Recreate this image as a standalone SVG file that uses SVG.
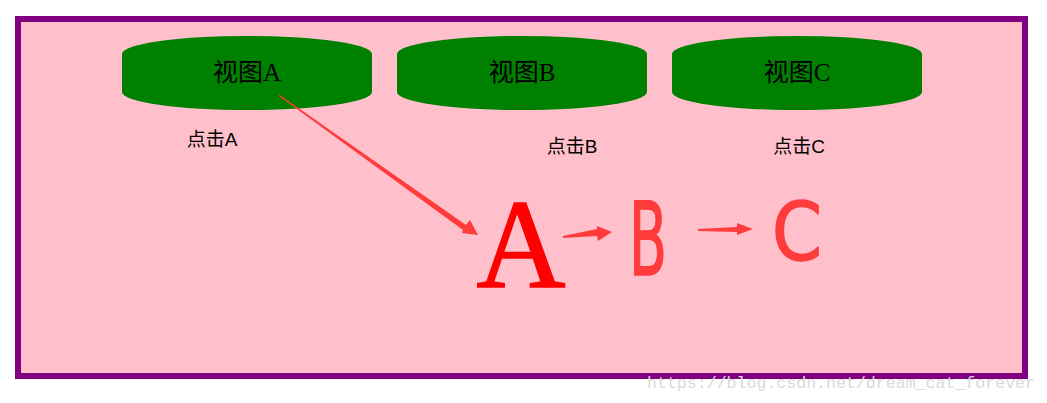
<svg xmlns="http://www.w3.org/2000/svg" width="1047" height="403" viewBox="0 0 1047 403">
<style>
.node{fill:#008000}
.ntxt{font-family:"Liberation Serif","Noto Sans CJK SC",serif;font-size:25px;fill:#000;text-anchor:middle}
.lbl{font-family:"Liberation Sans","Noto Sans CJK SC",sans-serif;font-size:19px;fill:#000;text-anchor:middle}
.arr{fill:#ff3b3b}
.hand{font-family:"DejaVu Sans",sans-serif;fill:#ff3b3b;stroke:#ff3b3b;stroke-width:1.5;stroke-linejoin:round}
</style>
<rect x="0" y="0" width="1047" height="403" fill="#ffffff"/>
<rect x="18" y="19" width="1007" height="357" fill="#ffc0cb" stroke="#800080" stroke-width="6"/>
<g id="nodeA"><rect class="node" x="122" y="36" width="250" height="74" rx="125" ry="18"/><text class="ntxt" x="247" y="81">视图A</text></g>
<g id="nodeB"><rect class="node" x="397" y="36" width="250" height="74" rx="125" ry="18"/><text class="ntxt" x="522" y="81">视图B</text></g>
<g id="nodeC"><rect class="node" x="672" y="36" width="250" height="74" rx="125" ry="18"/><text class="ntxt" x="797" y="81">视图C</text></g>
<g id="labels">
<text class="lbl" x="212" y="146">点击A</text>
<text class="lbl" x="572" y="153">点击B</text>
<text class="lbl" x="799" y="153">点击C</text>
</g>
<g id="letterA"><text x="521" y="287" font-family="Liberation Serif,serif" font-size="126" fill="#ff0000" stroke="#ff0000" stroke-width="1.5" text-anchor="middle" textLength="89" lengthAdjust="spacingAndGlyphs">A</text></g>
<g id="letterB"><text class="hand" x="629" y="275" font-size="102" textLength="38" lengthAdjust="spacingAndGlyphs">B</text></g>
<g id="letterC"><text class="hand" x="772" y="260" font-size="80" textLength="50" lengthAdjust="spacingAndGlyphs">C</text></g>
<g id="connectors">
<polygon class="arr" points="279.5,94.5 280.5,95.5 466,225 470,220 478,235 462,233 463,230 279,96"/>
<polygon class="arr" points="563,236 597,229 597,226 612,232 598,241 597,236 563,238"/>
<polygon class="arr" points="698,229 737,227 737,223 753,229 737,235 737,232 698,231"/>
</g>
<text x="647" y="388" font-family="Liberation Mono,monospace" font-size="16.6" fill="#dadada" textLength="388">https://blog.csdn.net/dream_cat_forever</text>
</svg>
